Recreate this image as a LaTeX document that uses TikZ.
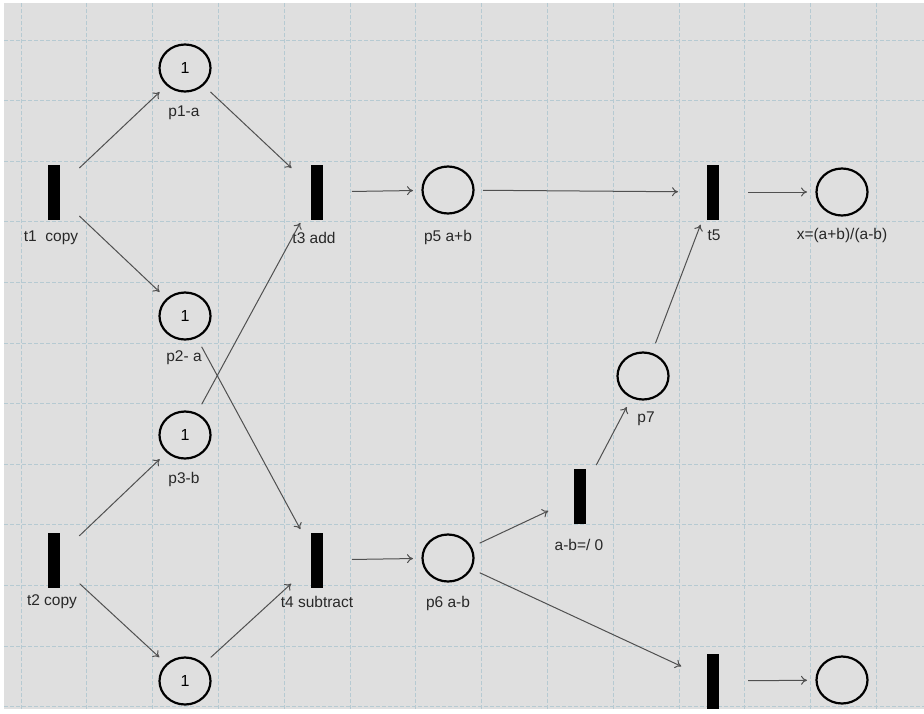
\documentclass[tikz,border=0pt]{standalone}
\usepackage{fontspec}
\setmainfont{Liberation Sans}
\usetikzlibrary{shapes.geometric,arrows.meta}
\definecolor{bgc}{RGB}{223,223,223}
\definecolor{gridc}{RGB}{182,202,210}
\definecolor{arcc}{RGB}{80,80,80}
\definecolor{txtc}{RGB}{40,40,40}
\tikzset{
  place/.style={ellipse,draw=black,line width=2.2pt,minimum width=51pt,minimum height=47pt,inner sep=0pt,font=\fontsize{16}{16}\selectfont},
  trans/.style={rectangle,fill=black,minimum width=12pt,minimum height=55pt,inner sep=0pt},
  lbl/.style={font=\fontsize{15.5}{15.5}\selectfont,text=txtc,inner sep=0pt},
  arc/.style={draw=arcc,line width=1pt,-{To[length=6pt,width=9pt]},shorten >=35pt,shorten <=35pt},
  gridline/.style={draw=gridc,line width=1pt,dash pattern=on 4pt off 2pt}
}
\begin{document}
\begin{tikzpicture}[x=1pt,y=-1pt]
\useasboundingbox (0,0) rectangle (924,713);
\fill[white] (0,0) rectangle (924,713);
\fill[bgc] (4,3) rectangle (924,709);
% grid
\foreach \gx in {21,86.8,152.6,218.4,284.2,350,415.8,481.6,547.4,613.2,679,744.8,810.6,876.4}
  \draw[gridline] (\gx,3) -- (\gx,709);
\foreach \gy in {40,100.6,161.2,221.8,282.4,343,403.6,464.2,524.8,585.4,646,706.6}
  \draw[gridline] (4,\gy) -- (924,\gy);
% places
\node[place] (p1) at (185,68) {1};
\node[place] (p2) at (185,316) {1};
\node[place] (p3) at (185,435) {1};
\node[place] (p4) at (185,681) {1};
\node[place] (p5) at (448,190) {};
\node[place] (p6) at (448,558) {};
\node[place] (p7) at (643,376) {};
\node[place] (px) at (842,192) {};
\node[place] (p8) at (842,680) {};
% transitions
\node[trans] (t1) at (54,192) {};
\node[trans] (t2) at (54,560) {};
\node[trans] (t3) at (317,192) {};
\node[trans] (t4) at (317,560) {};
\node[trans] (t5) at (713,192) {};
\node[trans] (tab) at (580,496) {};
\node[trans] (t6) at (713,681) {};
% labels
\node[lbl] (lp1) at (184,113) {p1-a};
\node[lbl] (lp2) at (184,358) {p2- a};
\node[lbl] (lp3) at (184,479) {p3-b};
\node[lbl] (lp5) at (448,237) {p5 a+b};
\node[lbl] (lp6) at (448,603) {p6 a-b};
\node[lbl] (lp7) at (646,419) {p7};
\node[lbl] (lpx) at (842,235) {x=(a+b)/(a-b)};
\node[lbl] (lt1) at (51,238) {t1\ \ copy};
\node[lbl] (lt2) at (52,602) {t2 copy};
\node[lbl] (lt3) at (314,238) {t3 add};
\node[lbl] (lt4) at (317,602) {t4 subtract};
\node[lbl] (lt5) at (714,235) {t5};
\node[lbl] (ltab) at (579,545) {a-b=/ 0};
% arcs
\draw[arc] (t1.center) -- (p1.center);
\draw[arc] (t1.center) -- (p2.center);
\draw[arc] (p1.center) -- (t3.center);
\draw[arc] (p3.center) -- (t3.center);
\draw[arc] (p2.center) -- (t4.center);
\draw[arc] (t2.center) -- (p3.center);
\draw[arc] (t2.center) -- (p4.center);
\draw[arc] (p4.center) -- (t4.center);
\draw[arc] (t3.center) -- (p5.center);
\draw[arc] (p5.center) -- (t5.center);
\draw[arc] (t5.center) -- (px.center);
\draw[arc] (t4.center) -- (p6.center);
\draw[arc] (p6.center) -- (tab.center);
\draw[arc] (tab.center) -- (p7.center);
\draw[arc] (p7.center) -- (t5.center);
\draw[arc] (p6.center) -- (t6.center);
\draw[arc] (t6.center) -- (p8.center);
\end{tikzpicture}
\end{document}
